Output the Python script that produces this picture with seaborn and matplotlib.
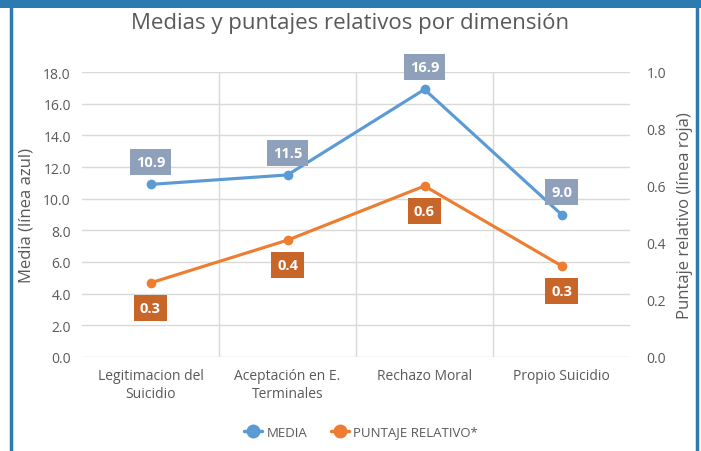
import matplotlib
matplotlib.use("Agg")
import matplotlib.pyplot as plt
import seaborn as sns
import pandas as pd
from matplotlib.lines import Line2D
from matplotlib.patches import Rectangle

categorias = ["Legitimacion del\nSuicidio", "Aceptación en E.\nTerminales", "Rechazo Moral", "Propio Suicidio"]
media = [10.9, 11.5, 16.9, 9.0]
puntaje = [0.26, 0.41, 0.60, 0.32]

sns.set_style("white")
plt.rcParams['font.family'] = ['Open Sans', 'DejaVu Sans']

gris = "#595959"
azul = "#5B9BD5"
naranja = "#ED7D31"

df = pd.DataFrame({"x": range(len(categorias)), "media": media, "puntaje": puntaje})

fig = plt.figure(figsize=(7.01, 4.52), dpi=100)
ax = fig.add_axes([82/701, 1-358/452, 548/701, 285/452])
ax2 = ax.twinx()

sns.lineplot(data=df, x="x", y="media", ax=ax, color=azul, marker="o", markersize=7,
             linewidth=2.25, markeredgewidth=0, zorder=3)
sns.lineplot(data=df, x="x", y="puntaje", ax=ax2, color=naranja, marker="o", markersize=7,
             linewidth=2.25, markeredgewidth=0, zorder=3)

ax.set_xlim(-0.5, len(categorias) - 0.5)
ax.set_ylim(0, 18)
ax2.set_ylim(0, 1)
ax.set_yticks(range(0, 19, 2))
ax.set_yticklabels([f"{v:.1f}" for v in range(0, 19, 2)])
ax2.set_yticks([0, 0.2, 0.4, 0.6, 0.8, 1.0])
ax2.set_yticklabels([f"{v:.1f}" for v in [0, 0.2, 0.4, 0.6, 0.8, 1.0]])
ax.set_xticks(range(len(categorias)))
ax.set_xticklabels(categorias)

# gridlines
for y in range(0, 19, 2):
    ax.axhline(y, color="#D9D9D9", lw=1, zorder=0)
for x in [0.5, 1.5, 2.5]:
    ax.axvline(x, color="#D9D9D9", lw=1, zorder=0)

for a in (ax, ax2):
    for s in a.spines.values():
        s.set_visible(False)
    a.tick_params(length=0, colors=gris, labelsize=10)
ax.tick_params(axis="y", pad=8)
ax2.tick_params(axis="y", pad=12)
ax.tick_params(axis="x", pad=8)
for t in ax.get_xticklabels():
    t.set_linespacing(1.3)

ax.set_xlabel("")
ax.set_ylabel("Media (línea azul)", color=gris, fontsize=12, labelpad=6)
ax2.set_ylabel("Puntaje relativo (línea roja)", color=gris, fontsize=12, labelpad=8)

# data labels
for i, v in enumerate(media):
    ax.annotate(f"{v:.1f}", (i, v), xytext=(0, 16), textcoords="offset points",
                ha="center", va="center", color="white", fontsize=10.5, fontweight="bold",
                bbox=dict(boxstyle="square,pad=0.42", fc="#8EA0BA", ec="none"), zorder=5)
for i, v in enumerate(puntaje):
    ax2.annotate(f"{v:.1f}", (i, v), xytext=(0, -18), textcoords="offset points",
                 ha="center", va="center", color="white", fontsize=10.5, fontweight="bold",
                 bbox=dict(boxstyle="square,pad=0.42", fc="#C8662A", ec="none"), zorder=5)

fig.suptitle("Medias y puntajes relativos por dimensión", x=0.5, y=1-13/452, va="top",
             color=gris, fontsize=16)

handles = [Line2D([], [], color=azul, marker="o", lw=2.5, markersize=9),
           Line2D([], [], color=naranja, marker="o", lw=2.5, markersize=9)]
fig.legend(handles, ["MEDIA", "PUNTAJE RELATIVO*"], loc="center", bbox_to_anchor=(0.515, 0.042),
           ncol=2, frameon=False, fontsize=9.5, handlelength=1.4, handletextpad=0.3,
           columnspacing=1.8, labelcolor=gris)

# blue frame
fig.patches.append(Rectangle((11/701, -0.05), 686/701, 1.1, transform=fig.transFigure,
                             fill=False, ec="#2B7BB0", lw=2.5, zorder=10))
fig.patches.append(Rectangle((0, 443/452), 1, 9/452, transform=fig.transFigure,
                             fc="#2B7BB0", ec="none", zorder=10))

fig.savefig("out.png", dpi=100)
